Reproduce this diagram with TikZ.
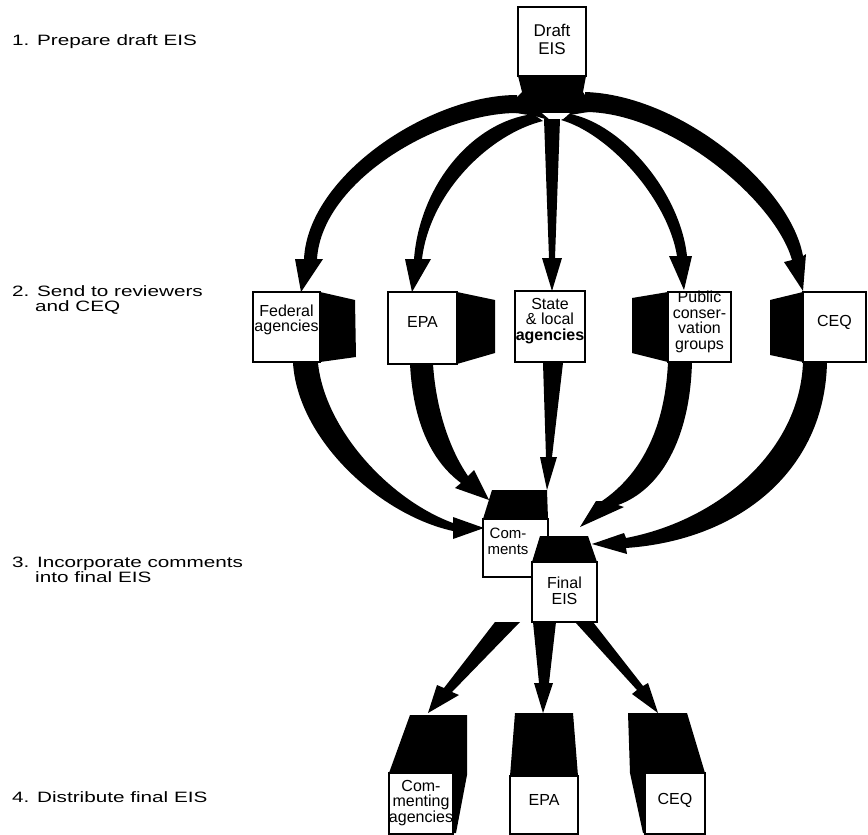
\documentclass[tikz,border=0pt]{standalone}
\usepackage{fontspec}
\setmainfont{Liberation Sans}
\newfontfamily\labfont[FakeStretch=1.38]{Liberation Sans}
\begin{document}
\begin{tikzpicture}[x=1pt,y=-1pt,
  wbox/.style={draw, fill=white, line width=1.3pt, inner sep=0pt},
  btext/.style={font=\fontsize{16}{15.5}\selectfont, align=center, inner sep=0pt},
  lab/.style={font=\labfont\fontsize{15}{15.5}\selectfont, align=left, anchor=west, inner sep=0pt},
  blk/.style={fill=black}]
\useasboundingbox (0,0) rectangle (868,835);

% ---------- step labels ----------
\node[lab] (l1) at (12,42) {1. Prepare draft EIS};
\node[lab] (l2) at (12,300) {2. Send to reviewers\\\hphantom{2.\ }and CEQ};
\node[lab] (l3) at (12,570) {3. Incorporate comments\\\hphantom{3.\ }into final EIS};
\node[lab] (l4) at (12,797) {4. Distribute final EIS};

% ---------- arrows from draft EIS ----------
\fill[blk] (517,95) .. controls (430,95) and (308,175) .. (304,259) -- (295,259) -- (301,292) -- (323,259) -- (317,259) .. controls (322,180) and (440,113) .. (517,113) -- cycle;
\fill[blk] (533,114) .. controls (472,122) and (420,185) .. (414,259) -- (405,259) -- (412,292) -- (431,259) -- (422,259) .. controls (430,192) and (490,134) .. (543,121) -- cycle;
\fill[blk] (561,120) .. controls (610,134) and (668,200) .. (677,256) -- (669,256) -- (684,290) -- (692,256) -- (687,256) .. controls (680,192) and (622,124) .. (570,114) -- cycle;
\fill[blk] (585,112) .. controls (670,112) and (775,200) .. (792,260) -- (784,262) -- (803,291) -- (806,254) -- (803,256) .. controls (790,185) and (680,95) .. (585,92) -- cycle;
\fill[blk] (518,76) -- (586,76) -- (583,92) -- (588,100) -- (588,112) -- (570,115) -- (552,121) -- (535,116) -- (516,113) -- (516,98) -- (522,92) -- cycle;
\fill[white] (542,113) -- (570,113) -- (563,119) -- (549,119) -- cycle;
\fill[blk] (544,119) -- (560,119) -- (555,258) -- (562,258) -- (552,291) -- (542,258) -- (549,258) -- cycle;

% ---------- arrows to comments / final ----------
\fill[blk] (293,363) .. controls (298,440) and (380,515) .. (453,531) -- (453,539) -- (484,528) -- (453,517) -- (453,523) .. controls (390,500) and (325,430) .. (318,363) -- cycle;
\fill[blk] (410,364) .. controls (413,420) and (430,460) .. (461,483) -- (455,488) -- (489,500) -- (474,470) -- (468,476) .. controls (450,450) and (436,410) .. (433,364) -- cycle;
\fill[blk] (543,363) -- (563,363) -- (552,457) -- (557,457) -- (547,490) -- (540,457) -- (546,457) -- cycle;
\fill[blk] (668,362) .. controls (665,430) and (640,475) .. (602,501) -- (596,501) -- (580,527) -- (624,507) -- (618,505) .. controls (660,490) and (690,440) .. (692,362) -- cycle;
\fill[blk] (803,362) .. controls (800,450) and (720,520) .. (626,538) -- (624,533) -- (592,544) -- (627,554) -- (626,548) .. controls (740,540) and (825,470) .. (827,362) -- cycle;

% ---------- arrows to distribution ----------
\fill[blk] (495,622) -- (520,622) -- (452,692) -- (459,695) -- (428,713) -- (437,685) -- (444,688) -- cycle;
\fill[blk] (533,622) -- (556,622) -- (549,683) -- (553,683) -- (543,713) -- (534,683) -- (539,683) -- cycle;
\fill[blk] (575,622) -- (593,622) -- (643,686) -- (648,683) -- (658,713) -- (632,694) -- (637,690) -- cycle;

% ---------- boxes ----------
\node[wbox, minimum width=68pt, minimum height=69pt] (draft) at (552,41.5) {};

\fill[blk] (320,292) -- (355,300) -- (356,357) -- (320,362) -- cycle;
\node[wbox, minimum width=67pt, minimum height=70pt] (fed) at (286.5,327) {};
\fill[blk] (457,292) -- (495,300) -- (495,353) -- (457,364) -- cycle;
\node[wbox, minimum width=69pt, minimum height=72pt] (epa) at (422.5,328) {};
\node[wbox, minimum width=70pt, minimum height=71pt] (state) at (550,326.5) {};
\fill[blk] (668,292) -- (632,298) -- (632,353) -- (668,362) -- cycle;
\node[wbox, minimum width=63pt, minimum height=70pt] (pub) at (699.5,327) {};
\fill[blk] (803,292) -- (770,300) -- (770,355) -- (803,362) -- cycle;
\node[wbox, minimum width=63pt, minimum height=70pt] (ceq) at (834.5,327) {};

\fill[blk] (492,490) -- (547,490) -- (548,519) -- (483,519) -- cycle;
\node[wbox, minimum width=65pt, minimum height=58pt] (com) at (515.5,548) {};
\fill[blk] (540,536) -- (588,536) -- (597,562) -- (532,562) -- cycle;
\node[wbox, minimum width=65pt, minimum height=60pt] (fin) at (564.5,592) {};

\fill[blk] (410,715) -- (467,715) -- (467,775) -- (456,833) -- (453,833) -- (453,773) -- (389,773) -- cycle;
\node[wbox, minimum width=64pt, minimum height=61pt] (cag) at (421,803.5) {};
\fill[blk] (515,713) -- (573,713) -- (578,776) -- (510,776) -- cycle;
\node[wbox, minimum width=68pt, minimum height=58pt] (epab) at (544,805) {};
\fill[blk] (628,713) -- (687,713) -- (705,773) -- (645,773) -- (645,833) -- (643,833) -- (630,773) -- cycle;
\node[wbox, minimum width=60pt, minimum height=61pt] (ceqb) at (675,803.5) {};

% ---------- box texts ----------
\node[btext, font=\fontsize{17}{18}\selectfont] at (552,39) {Draft\\EIS};
\node[btext] at (286.5,320) {Federal\\agencies};
\node[btext] at (422.5,322) {EPA};
\node[btext] at (550,321) {State\\\& local\\\textbf{agencies}};
\node[btext] at (699.5,322) {Public\\conser-\\vation\\groups};
\node[btext] at (834.5,322) {CEQ};
\node[btext, font=\fontsize{15}{16}\selectfont] at (508,541.5) {Com-\\ments};
\node[btext] at (564.5,591) {Final\\EIS};
\node[btext] at (421,803) {Com-\\menting\\agencies};
\node[btext] at (544,800) {EPA};
\node[btext] at (675,800) {CEQ};
\end{tikzpicture}
\end{document}
